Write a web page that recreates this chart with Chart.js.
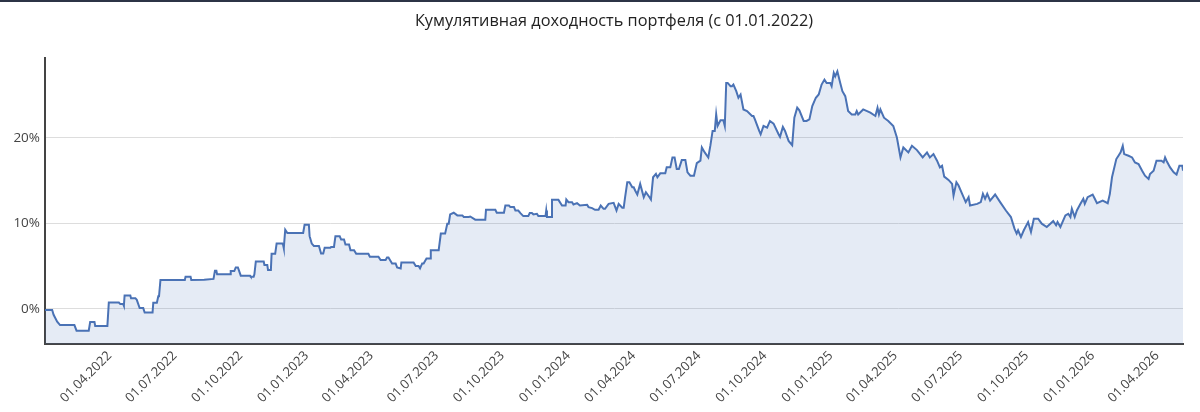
<!DOCTYPE html>
<html>
<head>
<meta charset="utf-8">
<title>Кумулятивная доходность</title>
<script src="https://cdn.jsdelivr.net/npm/chart.js@4.4.1/dist/chart.umd.min.js"></script>
<style>
  html, body { margin: 0; padding: 0; background: #fff; }
  .wrap { position: relative; width: 1200px; height: 412px; }
  .topline { position: absolute; left: 0; top: 0; width: 1200px; height: 2px; background: #2c3446; }
</style>
</head>
<body>
<div class="wrap">
  <canvas id="cumChart"></canvas>
  <div class="topline"></div>
</div>
<script>
// days since 01.01.2022
const days = [
  0, 10, 12, 17, 21, 41, 44, 61, 63, 69,
  70, 87, 89, 103, 105, 109, 110, 111, 119, 120,
  126, 128, 132, 137, 139, 150, 151, 156, 158, 159,
  161, 195, 196, 203, 204, 222, 235, 237, 239, 240,
  258, 259, 264, 266, 269, 273, 286, 287, 291, 292,
  294, 305, 306, 310, 311, 315, 316, 321, 323, 331,
  332, 333, 335, 338, 360, 362, 368, 369, 372, 375,
  382, 385, 388, 390, 398, 399, 403, 405, 411, 413,
  417, 419, 424, 426, 431, 434, 451, 453, 465, 468,
  475, 477, 479, 484, 489, 491, 496, 497, 514, 517,
  521, 523, 526, 528, 532, 537, 538, 549, 552, 558,
  561, 563, 565, 570, 575, 582, 584, 591, 593, 600,
  614, 615, 628, 630, 640, 642, 647, 649, 654, 656,
  660, 663, 667, 674, 676, 679, 681, 686, 688, 698,
  699, 700, 706, 707, 716, 721, 726, 727, 730, 735,
  737, 742, 746, 756, 758, 763, 767, 772, 775, 779,
  781, 786, 793, 797, 800, 805, 807, 809, 812, 815,
  819, 821, 823, 826, 830, 835, 838, 843, 845, 848,
  852, 854, 858, 865, 867, 872, 875, 878, 881, 884,
  888, 893, 896, 900, 905, 909, 914, 916, 920, 925,
  928, 931, 934, 936, 938, 942, 946, 948, 950, 952,
  956, 958, 960, 964, 967, 970, 974, 979, 986, 988,
  990, 996, 998, 1002, 1007, 1011, 1016, 1023, 1025, 1029,
  1032, 1037, 1042, 1045, 1049, 1052, 1058, 1062, 1066, 1070,
  1075, 1079, 1083, 1087, 1090, 1095, 1097, 1100, 1102, 1105,
  1109, 1112, 1116, 1120, 1125, 1130, 1132, 1134, 1141, 1151,
  1158, 1161, 1163, 1165, 1170, 1176, 1183, 1188, 1193, 1197,
  1204, 1209, 1216, 1224, 1230, 1234, 1239, 1244, 1248, 1251,
  1254, 1260, 1265, 1267, 1271, 1274, 1279, 1284, 1288, 1290,
  1300, 1305, 1308, 1311, 1314, 1318, 1325, 1332, 1340, 1347,
  1352, 1355, 1357, 1361, 1365, 1371, 1375, 1379, 1385, 1390,
  1397, 1402, 1406, 1410, 1412, 1416, 1423, 1427, 1430, 1432,
  1436, 1439, 1444, 1448, 1450, 1454, 1461, 1464, 1467, 1475,
  1482, 1485, 1488, 1494, 1497, 1500, 1503, 1505, 1511, 1516,
  1520, 1525, 1530, 1534, 1539, 1541, 1546, 1550, 1557, 1560,
  1562, 1564, 1569, 1574, 1578, 1582, 1586, 1587
];

// cumulative return, %
const returns = [
  -0.15, -0.15, -0.7, -1.5, -1.9, -1.9, -2.56, -2.56, -1.55, -1.55,
  -2.0, -2.0, 0.74, 0.74, 0.55, 0.55, 0.35, 1.55, 1.55, 1.24,
  1.24, 1.05, 0.08, 0.08, -0.43, -0.43, 0.7, 0.7, 1.47, 1.47,
  3.37, 3.37, 3.76, 3.76, 3.37, 3.4, 3.5, 4.46, 4.46, 4.03,
  4.03, 4.42, 4.42, 4.84, 4.84, 3.88, 3.88, 3.76, 3.76, 4.03,
  5.54, 5.54, 5.12, 5.12, 4.55, 4.55, 6.43, 6.43, 7.63, 7.63,
  7.5, 7.1, 9.26, 8.87, 8.87, 9.84, 9.84, 8.5, 7.63, 7.36,
  7.36, 6.47, 6.47, 7.13, 7.13, 7.24, 7.24, 8.49, 8.49, 8.1,
  8.1, 7.52, 7.52, 6.86, 6.86, 6.43, 6.43, 6.09, 6.09, 5.7,
  5.7, 6.0, 6.0, 5.31, 5.31, 4.84, 4.73, 5.43, 5.43, 5.0,
  5.0, 4.73, 5.31, 5.31, 5.89, 5.89, 6.86, 6.86, 8.8, 8.8,
  9.96, 9.96, 11.05, 11.24, 10.93, 10.93, 10.74, 10.74, 10.8, 10.43,
  10.43, 11.59, 11.59, 11.24, 11.24, 12.09, 12.09, 11.9, 11.9, 11.5,
  11.5, 11.2, 10.85, 10.85, 11.2, 11.2, 11.05, 11.12, 10.85, 10.85,
  11.5, 10.74, 10.74, 12.75, 12.75, 12.09, 12.09, 12.79, 12.48, 12.48,
  12.2, 12.36, 12.09, 12.17, 11.9, 11.78, 11.59, 11.59, 12.09, 11.7,
  11.7, 12.28, 12.4, 11.5, 12.28, 11.82, 11.82, 13.06, 14.8, 14.8,
  14.22, 14.22, 13.84, 13.37, 14.61, 13.06, 13.64, 13.06, 12.79, 15.39,
  15.78, 15.39, 15.85, 15.85, 16.55, 16.55, 17.71, 17.71, 16.36, 16.36,
  17.4, 17.4, 15.97, 15.58, 15.58, 17.05, 17.33, 18.88, 18.3, 17.71,
  19.15, 20.81, 20.81, 22.75, 21.4, 22.05, 22.05, 21.4, 26.43, 26.43,
  26.05, 26.05, 26.24, 25.47, 24.7, 25.08, 23.33, 23.14, 22.56, 22.56,
  22.17, 20.81, 20.43, 21.4, 21.2, 21.98, 21.67, 20.43, 20.12, 21.28,
  20.81, 19.65, 19.15, 22.36, 23.53, 23.22, 21.98, 21.98, 22.17, 23.72,
  24.7, 25.08, 26.24, 26.82, 26.43, 26.43, 26.05, 27.6, 27.2, 27.79,
  26.43, 25.47, 24.88, 23.14, 22.75, 22.75, 23.14, 22.75, 23.33, 22.95,
  22.56, 23.53, 22.75, 23.33, 22.36, 21.98, 21.4, 20.04, 17.71, 18.88,
  18.3, 19.07, 18.57, 17.71, 18.3, 17.71, 18.1, 17.33, 16.55, 16.74,
  15.47, 15.08, 14.61, 13.26, 14.8, 14.42, 13.45, 12.48, 13.06, 12.09,
  12.28, 12.48, 13.45, 12.87, 13.45, 12.67, 13.37, 12.48, 11.5, 10.74,
  9.38, 8.8, 9.19, 8.4, 9.19, 10.15, 8.99, 10.54, 10.54, 9.96,
  9.57, 9.96, 10.27, 9.77, 10.15, 9.57, 10.93, 11.12, 10.74, 11.7,
  10.74, 11.5, 12.28, 12.87, 12.28, 13.06, 13.37, 12.87, 12.36, 12.67,
  12.36, 13.45, 15.39, 17.52, 17.91, 18.3, 19.07, 18.1, 17.91, 17.71,
  17.13, 16.94, 16.16, 15.58, 15.2, 15.78, 16.16, 17.33, 17.33, 17.13,
  17.71, 17.33, 16.55, 15.97, 15.7, 16.74, 16.74, 16.16
];

const tickDates = [
  '01.04.2022', '01.07.2022', '01.10.2022', '01.01.2023', '01.04.2023',
  '01.07.2023', '01.10.2023', '01.01.2024', '01.04.2024', '01.07.2024',
  '01.10.2024', '01.01.2025', '01.04.2025', '01.07.2025', '01.10.2025',
  '01.01.2026', '01.04.2026'
];
const yTicks = [0, 10, 20];

const startDay = Date.UTC(2022, 0, 1);
function dayOf(s) {
  const p = s.split('.');
  return Math.round((Date.UTC(+p[2], +p[1] - 1, +p[0]) - startDay) / 86400000);
}

Chart.defaults.font.family = '"Open Sans", sans-serif';
Chart.defaults.color = '#444';

const ctx = document.getElementById('cumChart');

new Chart(ctx, {
  type: 'line',
  data: {
    datasets: [{
      data: days.map((d, i) => ({ x: d, y: returns[i] })),
      borderColor: 'rgb(74,114,181)',
      backgroundColor: 'rgba(74,114,181,0.14)',
      borderWidth: 2,
      pointRadius: 0,
      tension: 0,
      fill: 'start'
    }]
  },
  options: {
    responsive: true,
    maintainAspectRatio: false,
    animation: false,
    layout: { padding: { left: 0, right: 17, top: 0, bottom: 0 } },
    scales: {
      x: {
        type: 'linear',
        min: 0,
        max: days[days.length - 1],
        afterBuildTicks: s => { s.ticks = tickDates.map(t => ({ value: dayOf(t) })); },
        afterFit: s => { s.height = 68; },
        grid: { display: false, drawTicks: false },
        border: { display: true, color: '#444', width: 2 },
        ticks: {
          autoSkip: false,
          minRotation: 45,
          maxRotation: 45,
          padding: 4,
          font: { size: 13 },
          callback: (v, i) => tickDates[i]
        }
      },
      y: {
        min: -4.12,
        max: 29.4,
        afterBuildTicks: s => { s.ticks = yTicks.map(v => ({ value: v })); },
        afterFit: s => { s.width = 45; },
        grid: { color: '#dddddd', drawTicks: false },
        border: { display: true, color: '#444', width: 2 },
        ticks: {
          padding: 5,
          font: { size: 13.5 },
          callback: v => v + '%'
        }
      }
    },
    plugins: {
      legend: { display: false },
      tooltip: { enabled: false },
      title: {
        display: true,
        fullSize: false,
        text: 'Кумулятивная доходность портфеля (с 01.01.2022)',
        color: '#222',
        font: { size: 16.3, weight: 'normal' },
        padding: { top: 12, bottom: 26 }
      }
    }
  }
});
</script>
</body>
</html>
